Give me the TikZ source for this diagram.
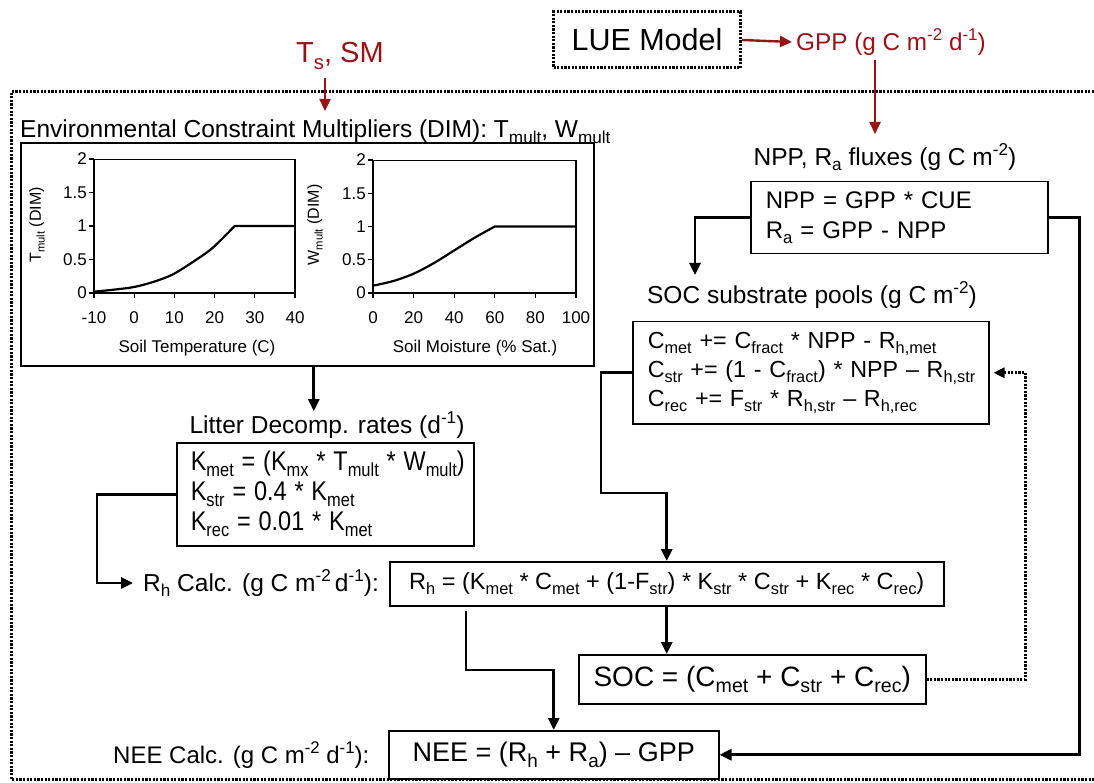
\documentclass[tikz,border=0pt]{standalone}
\usepackage{fontspec}
\setmainfont{Liberation Sans}
\usepackage{graphicx}
\usetikzlibrary{arrows.meta,calc}
\definecolor{dred}{RGB}{155,18,22}
\newcommand\sbs[1]{\raisebox{-0.22em}{\scalebox{0.7}{#1}}}
\newcommand\sps[1]{\raisebox{0.42em}{\scalebox{0.7}{#1}}}
\newcommand\hs[1]{\scalebox{0.87}[1]{#1}}
\begin{document}
\begin{tikzpicture}[x=1pt,y=-1pt,
  lbl/.style={font=\fontsize{24.5}{30}\selectfont, inner sep=0pt},
  eqbox/.style={draw, line width=1.5pt, font=\fontsize{24}{30}\selectfont, align=left, inner xsep=15pt, inner ysep=0pt, anchor=north west},
  conn/.style={line width=2.8pt, -{Triangle[length=12pt,width=11pt]}},
  rconn/.style={line width=2.4pt, draw=dred, -{Triangle[length=12pt,width=11pt]}, color=dred},
  dots/.style={line width=3pt, dash pattern=on 2.2pt off 1.4pt},
  tick/.style={font=\fontsize{17}{20}\selectfont, inner sep=0pt},
  axlbl/.style={font=\fontsize{17}{20}\selectfont, inner sep=0pt},
]
\useasboundingbox (0,0) rectangle (1094,783);

% outer dotted frame
\draw[dots] (1094,92) -- (11,92) -- (11,779) -- (1094,779);

% top inputs
\node[draw, dots, minimum width=187pt, minimum height=56pt, inner sep=0pt, font=\fontsize{30.5}{34}\selectfont] (lue) at (647,40) {LUE Model};
\node[anchor=west, inner xsep=4pt, inner ysep=0pt, text=dred, font=\fontsize{24.3}{30}\selectfont] (gpp) at (792,42) {GPP (g C m\sps{-2} d\sps{-1})};
\node[anchor=base west, inner sep=0pt, text=dred, font=\fontsize{29}{36}\selectfont] (ts) at (296,63) {T\sbs{s}, SM};
\draw[rconn] (lue.east) -- (gpp.west);
\coordinate (tsA) at (325,78);
\coordinate (tsB) at (325,111);
\draw[rconn] (tsA) -- (tsB);
\coordinate (gA) at (875,60);
\coordinate (gB) at (875,134);
\draw[rconn] (gA) -- (gB);

% environmental constraint multipliers
\node[lbl, anchor=base west] (envt) at (20,138) {Environmental Constraint Multipliers (DIM): T\sbs{mult}, W\sbs{mult}};
\node[draw, line width=1.6pt, minimum width=573pt, minimum height=223pt, anchor=north west, inner sep=0pt] (plots) at (20,142) {};

% plot 1
\begin{scope}[shift={(94,293)}, x=4.02pt, y=67pt]
  \draw[line width=0.8pt] (0,0) rectangle (50,2);
  \draw[line width=1.6pt] (0,2) -- (0,0) -- (50,0) -- (50,2);
  \foreach \t/\l in {0/-10,10/0,20/10,30/20,40/30,50/40}{
    \draw[line width=1.2pt] (\t,0) -- +(0,-5pt);
    \node[tick] at ([yshift=-25pt]\t,0) {\l};}
  \foreach \v in {0,0.5,1,1.5,2}{
    \draw[line width=1.2pt] (0,\v) -- +(-5pt,0);
    \node[tick, anchor=east] at ([xshift=-7pt]0,\v) {\v};}
  \draw[line width=2.2pt, line join=round] plot[smooth, tension=0.5] coordinates {(0,0.02) (5,0.05) (10,0.09) (15,0.17) (20,0.29) (27,0.56) (30,0.7) (35,1)} -- (50,1);
\end{scope}
\node[axlbl] (xl1) at (197,348) {Soil Temperature (C)};
\node[axlbl, rotate=90, font=\fontsize{16}{20}\selectfont] (yl1) at (37,225) {T\sbs{mult} (DIM)};

% plot 2
\begin{scope}[shift={(373,293)}, x=2.03pt, y=66.5pt]
  \draw[line width=0.8pt] (0,0) rectangle (100,2);
  \draw[line width=1.6pt] (0,2) -- (0,0) -- (100,0) -- (100,2);
  \foreach \t in {0,20,40,60,80,100}{
    \draw[line width=1.2pt] (\t,0) -- +(0,-5pt);
    \node[tick] at ([yshift=-25pt]\t,0) {\t};}
  \foreach \v in {0,0.5,1,1.5,2}{
    \draw[line width=1.2pt] (0,\v) -- +(-5pt,0);
    \node[tick, anchor=east] at ([xshift=-7pt]0,\v) {\v};}
  \draw[line width=2.2pt, line join=round] plot[smooth] coordinates {(0,0.11) (10,0.18) (20,0.29) (30,0.45) (40,0.64) (50,0.83) (60,1)} -- (100,1);
\end{scope}
\node[axlbl] (xl2) at (475,348) {Soil Moisture (\% Sat.)};
\node[axlbl, rotate=90, font=\fontsize{16}{20}\selectfont] (yl2) at (315,225) {W\sbs{mult} (DIM)};

% litter decomposition
\node[lbl] (littert) at (327,425) {Litter Decomp. rates (d\sps{-1})};
\draw[conn] ([xshift=6.5pt]plots.south) -- ([xshift=6.5pt]plots.south |- littert.north);
\node[eqbox, text width=281pt, inner xsep=8pt, minimum height=103pt, font=\fontsize{27}{30}\selectfont] (litter) at (176,442) {\hspace*{6pt}\hs{K\sbs{met} = (K\sbs{mx} * T\sbs{mult} * W\sbs{mult})}\\\hspace*{6pt}\hs{K\sbs{str} = 0.4 * K\sbs{met}}\\\hspace*{6pt}\hs{K\sbs{rec} = 0.01 * K\sbs{met}}};

% Rh calc
\node[lbl, anchor=west, inner xsep=10pt] (rhcalc) at (133,583) {R\sbs{h} Calc. (g C m\sps{-2}\,d\sps{-1}):};
\draw[conn] (litter.west) -- ++(-79,0) |- (rhcalc.west);
\node[draw, line width=1.5pt, anchor=north west, minimum width=554pt, minimum height=44pt, inner sep=0pt, font=\fontsize{23.5}{30}\selectfont] (rhbox) at (389,561) {R\sbs{h} = (K\sbs{met} * C\sbs{met} + (1-F\sbs{str}) * K\sbs{str} * C\sbs{str} + K\sbs{rec} * C\sbs{rec})};

% NPP
\node[lbl] (nppt) at (885,157) {NPP, R\sbs{a} fluxes (g C m\sps{-2})};
\node[eqbox, text width=267pt, minimum height=72pt] (npp) at (750,181) {NPP = GPP * CUE\\R\sbs{a} = GPP - NPP};

% SOC pools
\node[lbl] (socpt) at (812,295) {SOC substrate pools (g C m\sps{-2})};
\node[eqbox, text width=336pt, inner xsep=10pt, minimum height=102pt, font=\fontsize{23.3}{29}\selectfont] (socp) at (632,321) {\hspace*{5pt}C\sbs{met} += C\sbs{fract} * NPP - R\sbs{h,met}\\\hspace*{5pt}C\sbs{str} += (1 - C\sbs{fract}) * NPP -- R\sbs{h,str}\\\hspace*{5pt}C\sbs{rec} += F\sbs{str} * R\sbs{h,str} -- R\sbs{h,rec}};
\coordinate (sp) at (695,275);
\draw[conn] (npp.west) -| (sp);

% SOC total
\node[draw, line width=1.5pt, anchor=north west, minimum width=347pt, minimum height=49pt, inner sep=0pt, font=\fontsize{28}{30}\selectfont] (socbox) at (578,654) {SOC = (C\sbs{met} + C\sbs{str} + C\sbs{rec})};

% NEE
\node[lbl, anchor=west, font=\fontsize{24}{30}\selectfont] (neecalc) at (113,755) {NEE Calc. (g C m\sps{-2} d\sps{-1}):};
\node[draw, line width=1.5pt, anchor=north west, minimum width=330pt, minimum height=48pt, inner sep=0pt, font=\fontsize{27}{30}\selectfont] (neebox) at (388,730) {NEE = (R\sbs{h} + R\sbs{a}) -- GPP};

% connectors
\coordinate (j1) at (601,493);
\draw[conn] (socp.west) -| (j1) -| (rhbox.north);
\draw[conn] (rhbox.south) -- (rhbox.south |- socbox.north);
\coordinate (rhout) at (466,611);
\draw[conn] (rhout) |- ($(neebox.north)+(0,-60)$) -- (neebox.north);
\draw[conn] (npp.east) -- ++(31,0) |- (neebox.east);
\draw[dots, -{Triangle[length=11pt,width=10pt]}, shorten >=4pt] (socbox.east) -- ++(99,0) |- (socp.east);
\end{tikzpicture}
\end{document}
